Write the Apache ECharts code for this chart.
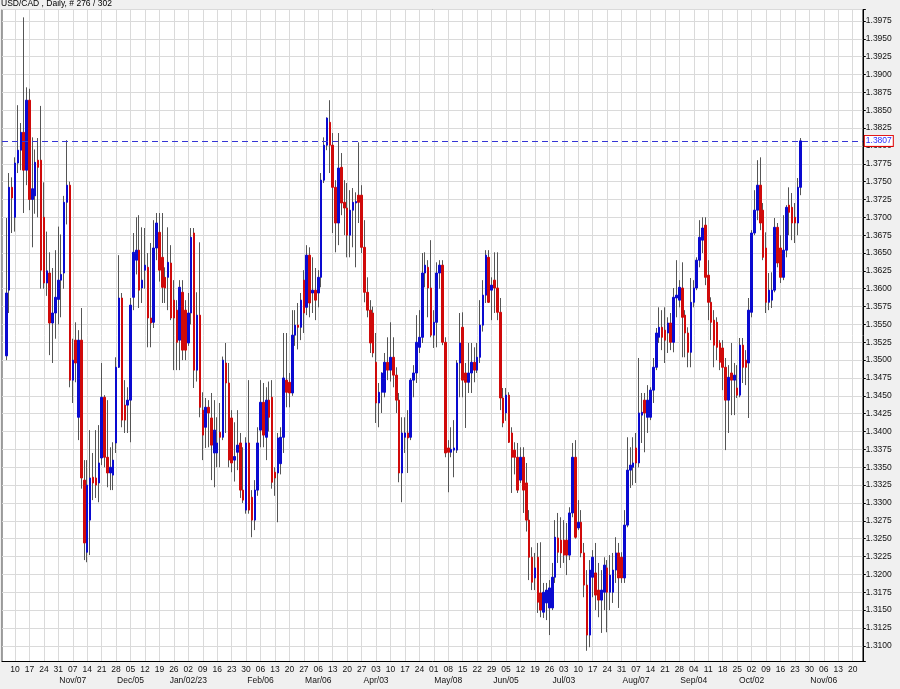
<!DOCTYPE html>
<html>
<head>
<meta charset="utf-8">
<script src="https://cdn.jsdelivr.net/npm/echarts@6/dist/echarts.min.js"></script>
<style>
html,body{margin:0;padding:0;background:#f0f0f0;}
#chart{width:900px;height:689px;}
</style>
</head>
<body>
<div id="chart"></div>
<script>
// ---- axis definition ----
const firstSlot = '2022-10-04';   // first weekday slot on the axis
const lastSlot  = '2023-11-23';   // last weekday slot on the axis
const firstBar  = '2022-10-05';   // date of first candle
const chartTitle = 'USD/CAD , Daily, # 276 / 302';
const currentPrice = 1.3807;

const monthLabelDates = ['2022-11-07','2022-12-05','2023-01-02','2023-02-06','2023-03-06','2023-04-03','2023-05-08','2023-06-05','2023-07-03','2023-08-07','2023-09-04','2023-10-02','2023-11-06'];
const monthLabelTexts = ['Nov/07','Dec/05','Jan/02/23','Feb/06','Mar/06','Apr/03','May/08','Jun/05','Jul/03','Aug/07','Sep/04','Oct/02','Nov/06'];

// ---- daily OHLC (one entry per trading day from firstBar) ----
const openPx = [
1.3506,1.3598,1.3742,1.3700,1.3776,1.3794,1.3819,1.3766,1.3864,1.3725,
1.3730,1.3780,1.3780,1.3700,1.3608,1.3622,1.3552,1.3566,1.3585,1.3612,
1.3622,1.3721,1.3745,1.3472,1.3528,1.3420,1.3528,1.3332,1.3231,1.3276,
1.3336,1.3335,1.3328,1.3363,1.3448,1.3364,1.3342,1.3339,1.3384,1.3490,
1.3587,1.3437,1.3437,1.3444,1.3588,1.3640,1.3654,1.3601,1.3626,1.3630,
1.3559,1.3553,1.3657,1.3679,1.3644,1.3616,1.3616,1.3636,1.3584,1.3570,
1.3528,1.3595,1.3570,1.3524,1.3566,1.3678,1.3486,1.3563,1.3430,1.3406,
1.3434,1.3419,1.3370,1.3370,1.3399,1.3392,1.3496,1.3468,1.3419,1.3360,
1.3371,1.3384,1.3318,1.3290,1.3384,1.3308,1.3276,1.3318,1.3402,1.3441,
1.3392,1.3444,1.3448,1.3343,1.3342,1.3355,1.3392,1.3472,1.3469,1.3454,
1.3535,1.3549,1.3546,1.3612,1.3574,1.3647,1.3594,1.3598,1.3594,1.3616,
1.3752,1.3801,1.3833,1.3801,1.3742,1.3692,1.3770,1.3721,1.3713,1.3675,
1.3710,1.3720,1.3731,1.3731,1.3658,1.3595,1.3570,1.3566,1.3497,1.3440,
1.3455,1.3455,1.3497,1.3486,1.3504,1.3479,1.3444,1.3342,1.3392,1.3398,
1.3392,1.3472,1.3482,1.3518,1.3532,1.3622,1.3630,1.3601,1.3535,1.3553,
1.3622,1.3633,1.3525,1.3377,1.3371,1.3374,1.3374,1.3496,1.3546,1.3482,
1.3469,1.3482,1.3497,1.3486,1.3504,1.3549,1.3591,1.3644,1.3598,1.3612,
1.3601,1.3567,1.3447,1.3426,1.3451,1.3398,1.3374,1.3364,1.3332,1.3364,
1.3328,1.3276,1.3224,1.3195,1.3224,1.3174,1.3147,1.3160,1.3153,1.3153,
1.3196,1.3251,1.3248,1.3248,1.3248,1.3227,1.3286,1.3364,1.3265,1.3273,
1.3230,1.3185,1.3115,1.3196,1.3202,1.3178,1.3164,1.3175,1.3209,1.3175,
1.3175,1.3206,1.3230,1.3224,1.3195,1.3269,1.3346,1.3350,1.3377,1.3356,
1.3423,1.3444,1.3420,1.3420,1.3458,1.3490,1.3532,1.3546,1.3542,1.3538,
1.3552,1.3525,1.3587,1.3584,1.3601,1.3563,1.3538,1.3511,1.3581,1.3601,
1.3640,1.3668,1.3689,1.3619,1.3581,1.3556,1.3553,1.3524,1.3517,1.3490,
1.3444,1.3482,1.3472,1.3461,1.3451,1.3521,1.3500,1.3496,1.3567,1.3678,
1.3710,1.3745,1.3710,1.3657,1.3581,1.3584,1.3598,1.3686,1.3657,1.3616,
1.3654,1.3717,1.3714,1.3700,1.3692,1.3742
];
const highPx = [
1.3699,1.3762,1.3756,1.3784,1.3857,1.3832,1.3980,1.3882,1.3880,1.3812,
1.3795,1.3811,1.3856,1.3749,1.3680,1.3651,1.3629,1.3654,1.3687,1.3676,
1.3730,1.3808,1.3750,1.3530,1.3553,1.3542,1.3573,1.3360,1.3360,1.3402,
1.3370,1.3402,1.3409,1.3496,1.3451,1.3444,1.3378,1.3385,1.3504,1.3647,
1.3594,1.3472,1.3462,1.3587,1.3678,1.3700,1.3703,1.3686,1.3685,1.3650,
1.3664,1.3696,1.3706,1.3706,1.3706,1.3630,1.3686,1.3661,1.3612,1.3584,
1.3612,1.3612,1.3584,1.3594,1.3685,1.3685,1.3595,1.3665,1.3455,1.3447,
1.3444,1.3454,1.3444,1.3420,1.3440,1.3505,1.3524,1.3496,1.3430,1.3413,
1.3430,1.3398,1.3378,1.3392,1.3472,1.3318,1.3332,1.3406,1.3472,1.3468,
1.3462,1.3470,1.3472,1.3350,1.3398,1.3406,1.3538,1.3538,1.3482,1.3570,
1.3570,1.3580,1.3594,1.3626,1.3661,1.3658,1.3644,1.3629,1.3626,1.3762,
1.3812,1.3840,1.3864,1.3818,1.3752,1.3818,1.3790,1.3752,1.3748,1.3738,
1.3741,1.3735,1.3805,1.3745,1.3696,1.3616,1.3584,1.3575,1.3538,1.3468,
1.3483,1.3510,1.3532,1.3553,1.3532,1.3490,1.3454,1.3420,1.3420,1.3430,
1.3475,1.3493,1.3563,1.3570,1.3650,1.3651,1.3640,1.3668,1.3570,1.3637,
1.3640,1.3640,1.3532,1.3388,1.3406,1.3416,1.3500,1.3566,1.3567,1.3496,
1.3524,1.3524,1.3518,1.3524,1.3584,1.3612,1.3654,1.3654,1.3616,1.3651,
1.3651,1.3587,1.3461,1.3461,1.3455,1.3406,1.3385,1.3384,1.3378,1.3378,
1.3356,1.3290,1.3238,1.3230,1.3244,1.3245,1.3188,1.3188,1.3192,1.3216,
1.3276,1.3286,1.3280,1.3276,1.3272,1.3294,1.3384,1.3388,1.3304,1.3290,
1.3244,1.3206,1.3220,1.3234,1.3244,1.3216,1.3206,1.3224,1.3220,1.3227,
1.3230,1.3252,1.3244,1.3231,1.3290,1.3392,1.3378,1.3392,1.3398,1.3503,
1.3454,1.3454,1.3465,1.3462,1.3503,1.3545,1.3574,1.3570,1.3574,1.3560,
1.3566,1.3601,1.3640,1.3612,1.3637,1.3570,1.3546,1.3615,1.3612,1.3644,
1.3696,1.3700,1.3700,1.3640,1.3588,1.3570,1.3560,1.3528,1.3528,1.3503,
1.3493,1.3524,1.3496,1.3493,1.3531,1.3531,1.3514,1.3587,1.3682,1.3738,
1.3780,1.3784,1.3720,1.3679,1.3622,1.3623,1.3699,1.3692,1.3675,1.3703,
1.3717,1.3742,1.3734,1.3720,1.3755,1.3811
];
const lowPx = [
1.3500,1.3566,1.3678,1.3680,1.3762,1.3766,1.3706,1.3745,1.3710,1.3658,
1.3705,1.3700,1.3600,1.3600,1.3590,1.3507,1.3496,1.3530,1.3550,1.3560,
1.3600,1.3690,1.3462,1.3440,1.3469,1.3388,1.3320,1.3220,1.3217,1.3227,
1.3304,1.3307,1.3301,1.3353,1.3350,1.3322,1.3318,1.3318,1.3370,1.3489,
1.3406,1.3398,1.3398,1.3385,1.3570,1.3620,1.3573,1.3580,1.3600,1.3518,
1.3518,1.3545,1.3640,1.3610,1.3580,1.3580,1.3570,1.3556,1.3486,1.3486,
1.3486,1.3500,1.3500,1.3520,1.3550,1.3461,1.3470,1.3420,1.3360,1.3377,
1.3378,1.3332,1.3322,1.3350,1.3350,1.3388,1.3398,1.3350,1.3343,1.3330,
1.3346,1.3307,1.3300,1.3285,1.3285,1.3252,1.3262,1.3310,1.3378,1.3378,
1.3360,1.3400,1.3320,1.3310,1.3273,1.3340,1.3370,1.3434,1.3434,1.3450,
1.3520,1.3515,1.3528,1.3538,1.3563,1.3560,1.3566,1.3556,1.3574,1.3602,
1.3748,1.3794,1.3762,1.3678,1.3651,1.3661,1.3703,1.3675,1.3644,1.3644,
1.3658,1.3630,1.3692,1.3650,1.3581,1.3560,1.3510,1.3504,1.3412,1.3406,
1.3426,1.3448,1.3472,1.3470,1.3462,1.3426,1.3329,1.3301,1.3370,1.3342,
1.3388,1.3448,1.3468,1.3510,1.3524,1.3602,1.3560,1.3532,1.3517,1.3518,
1.3600,1.3521,1.3364,1.3315,1.3364,1.3336,1.3370,1.3448,1.3448,1.3405,
1.3454,1.3454,1.3469,1.3482,1.3496,1.3540,1.3580,1.3580,1.3556,1.3566,
1.3556,1.3430,1.3406,1.3415,1.3384,1.3314,1.3340,1.3314,1.3328,1.3286,
1.3260,1.3192,1.3178,1.3178,1.3146,1.3140,1.3139,1.3136,1.3115,1.3150,
1.3188,1.3216,1.3209,1.3216,1.3199,1.3220,1.3280,1.3250,1.3262,1.3224,
1.3168,1.3093,1.3098,1.3168,1.3150,1.3140,1.3118,1.3150,1.3119,1.3150,
1.3160,1.3188,1.3153,1.3188,1.3188,1.3266,1.3321,1.3325,1.3328,1.3350,
1.3384,1.3371,1.3398,1.3416,1.3440,1.3486,1.3524,1.3514,1.3496,1.3510,
1.3514,1.3511,1.3560,1.3574,1.3504,1.3504,1.3490,1.3490,1.3574,1.3598,
1.3630,1.3650,1.3605,1.3556,1.3528,1.3490,1.3500,1.3486,1.3458,1.3374,
1.3398,1.3423,1.3423,1.3447,1.3448,1.3468,1.3465,1.3419,1.3560,1.3675,
1.3696,1.3682,1.3640,1.3566,1.3570,1.3573,1.3595,1.3630,1.3608,1.3612,
1.3644,1.3675,1.3668,1.3664,1.3675,1.3731
];
const closePx = [
1.3594,1.3742,1.3727,1.3776,1.3794,1.3819,1.3766,1.3864,1.3725,1.3740,
1.3777,1.3770,1.3626,1.3608,1.3625,1.3552,1.3566,1.3588,1.3612,1.3620,
1.3721,1.3745,1.3472,1.3500,1.3496,1.3528,1.3335,1.3244,1.3325,1.3335,
1.3328,1.3325,1.3356,1.3448,1.3364,1.3342,1.3350,1.3360,1.3490,1.3587,
1.3416,1.3416,1.3444,1.3577,1.3651,1.3654,1.3598,1.3612,1.3633,1.3559,
1.3552,1.3657,1.3692,1.3626,1.3602,1.3601,1.3637,1.3559,1.3559,1.3525,
1.3602,1.3514,1.3514,1.3566,1.3672,1.3486,1.3563,1.3434,1.3395,1.3434,
1.3426,1.3381,1.3402,1.3384,1.3392,1.3500,1.3468,1.3360,1.3356,1.3365,
1.3381,1.3318,1.3304,1.3384,1.3290,1.3276,1.3318,1.3384,1.3441,1.3395,
1.3444,1.3420,1.3329,1.3335,1.3391,1.3392,1.3475,1.3455,1.3454,1.3535,
1.3549,1.3546,1.3584,1.3566,1.3647,1.3580,1.3598,1.3584,1.3616,1.3752,
1.3801,1.3839,1.3801,1.3742,1.3692,1.3769,1.3720,1.3713,1.3675,1.3710,
1.3721,1.3722,1.3721,1.3658,1.3595,1.3570,1.3524,1.3510,1.3440,1.3455,
1.3482,1.3497,1.3486,1.3504,1.3479,1.3444,1.3342,1.3398,1.3398,1.3391,
1.3472,1.3482,1.3525,1.3532,1.3622,1.3633,1.3601,1.3535,1.3553,1.3622,
1.3633,1.3525,1.3370,1.3371,1.3375,1.3377,1.3496,1.3524,1.3472,1.3469,
1.3482,1.3497,1.3486,1.3504,1.3549,1.3591,1.3647,1.3581,1.3605,1.3601,
1.3567,1.3447,1.3412,1.3451,1.3385,1.3364,1.3364,1.3318,1.3364,1.3318,
1.3276,1.3224,1.3189,1.3209,1.3161,1.3150,1.3175,1.3178,1.3181,1.3196,
1.3252,1.3231,1.3230,1.3227,1.3227,1.3286,1.3364,1.3252,1.3273,1.3230,
1.3185,1.3115,1.3206,1.3224,1.3171,1.3164,1.3178,1.3213,1.3175,1.3199,
1.3206,1.3230,1.3195,1.3195,1.3269,1.3346,1.3353,1.3356,1.3356,1.3426,
1.3427,1.3426,1.3444,1.3458,1.3490,1.3538,1.3546,1.3532,1.3528,1.3552,
1.3525,1.3588,1.3591,1.3602,1.3560,1.3538,1.3511,1.3581,1.3601,1.3640,
1.3672,1.3685,1.3616,1.3581,1.3553,1.3521,1.3518,1.3497,1.3490,1.3444,
1.3476,1.3472,1.3479,1.3451,1.3521,1.3490,1.3490,1.3570,1.3678,1.3710,
1.3745,1.3692,1.3644,1.3581,1.3598,1.3598,1.3686,1.3636,1.3616,1.3654,
1.3714,1.3707,1.3692,1.3692,1.3742,1.3807
];

// ---- build weekday slots ----
function ymd(d){ return d.toISOString().slice(0,10); }
const slots = [];
for (let t = Date.parse(firstSlot+'T00:00:00Z'); t <= Date.parse(lastSlot+'T00:00:00Z'); t += 86400000) {
  const d = new Date(t); const wd = d.getUTCDay();
  if (wd !== 0 && wd !== 6) slots.push(ymd(d));
}
const startIdx = slots.indexOf(firstBar);
const wickData = slots.map(() => '-');
const bodyData = slots.map(() => '-');
for (let k = 0; k < openPx.length; k++) {
  const o = openPx[k], c = closePx[k];
  const h = Math.max(highPx[k], o, c), l = Math.min(lowPx[k], o, c);
  wickData[startIdx + k] = [o, c, l, h];
  bodyData[startIdx + k] = [o, c, Math.min(o, c), Math.max(o, c)];
}
const isMonday = v => new Date(v + 'T00:00:00Z').getUTCDay() === 1;
const onGrid = v => Math.abs(v / 0.0025 - Math.round(v / 0.0025)) < 1e-6;
const FONT = 'Liberation Sans';

const chart = echarts.init(document.getElementById('chart'), null, {renderer: 'canvas'});
chart.setOption({
  animation: false,
  backgroundColor: '#f0f0f0',
  title: {
    text: chartTitle, left: 1, top: -1, padding: 0,
    textStyle: {fontSize: 8.5, fontWeight: 'normal', color: '#000', fontFamily: FONT}
  },
  grid: {
    left: 2, right: 37.2, top: 9.5, bottom: 27.5,
    show: true, backgroundColor: '#ffffff', borderColor: '#444', borderWidth: 1
  },
  xAxis: {
    type: 'category', data: slots, boundaryGap: true,
    axisLine: {show: true, lineStyle: {color: '#000', width: 1}},
    axisTick: {show: false},
    axisLabel: {
      interval: (i, v) => isMonday(v),
      formatter: v => {
        const m = monthLabelDates.indexOf(v);
        return v.slice(8, 10) + (m >= 0 ? '\n' + monthLabelTexts[m] : '');
      },
      fontSize: 8.5, lineHeight: 11, margin: 3, color: '#111', fontFamily: FONT
    },
    splitLine: {
      show: true, interval: (i, v) => isMonday(v), alignWithLabel: true,
      lineStyle: {color: '#dadada', width: 1}
    }
  },
  yAxis: {
    type: 'value', position: 'right', scale: true,
    min: 1.3078, max: 1.3991, splitNumber: 37, minInterval: 0.0025, maxInterval: 0.0025,
    axisLine: {show: true, lineStyle: {color: '#000', width: 1}},
    axisTick: {show: true, length: 3, lineStyle: {color: '#000'}},
    axisLabel: {
      margin: 3, fontSize: 8.5, color: '#111', fontFamily: FONT,
      formatter: v => onGrid(v) ? v.toFixed(4) : ''
    },
    splitLine: {show: true, lineStyle: {color: '#dadada', width: 1}}
  },
  series: [
    {
      type: 'candlestick', name: 'range', data: wickData, barWidth: 1, silent: true, z: 2,
      itemStyle: {color: '#555', color0: '#555', borderColor: '#555', borderColor0: '#555', borderWidth: 1}
    },
    {
      type: 'candlestick', name: 'body', data: bodyData, barWidth: 2, silent: true, z: 3,
      itemStyle: {color: '#0a0ad0', color0: '#d00a0a', borderColor: '#0a0ad0', borderColor0: '#d00a0a', borderWidth: 1},
      markLine: {
        silent: true, symbol: ['none', 'none'], animation: false, precision: 4,
        data: [{yAxis: currentPrice}],
        lineStyle: {color: '#3535d5', type: [6, 4], width: 1},
        label: {
          show: true, position: 'end', distance: 2,
          formatter: currentPrice.toFixed(4),
          color: '#2a2aff', backgroundColor: '#fff', borderColor: '#e00000', borderWidth: 1,
          padding: [1, 1, 0, 1], fontSize: 8.5, fontFamily: FONT
        },
        emphasis: {disabled: true}
      }
    }
  ]
});
</script>
</body>
</html>
